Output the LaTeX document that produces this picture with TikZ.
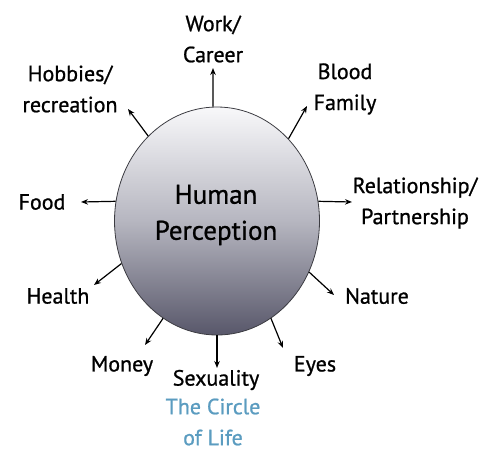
\documentclass[tikz,border=0pt]{standalone}
\usepackage{fontspec}
\setmainfont{PT Sans}[RawFeature={embolden=0.9}]
\usetikzlibrary{shapes.geometric,arrows.meta}
\definecolor{circblue}{RGB}{91,156,192}
\definecolor{toplight}{RGB}{248,248,250}
\definecolor{midgray}{RGB}{182,182,192}
\definecolor{botdark}{RGB}{88,87,106}
\definecolor{rimgray}{RGB}{60,60,66}
\tikzset{
  lbl/.style={font=\fontsize{22}{31}\selectfont, align=center, inner sep=0pt, text=black},
  arr/.style={-{Stealth[length=7pt,width=5.5pt]}, line width=1.2pt, black},
}
\begin{document}
\begin{tikzpicture}[x=1pt,y=-1pt]
\useasboundingbox (0,0) rectangle (494,450);
\node[ellipse, draw=rimgray, line width=0.8pt, minimum width=205pt, minimum height=228pt, inner sep=0pt,
      top color=toplight, bottom color=botdark, middle color=midgray] (E) at (217,221) {};
\node[font=\fontsize{27}{36}\selectfont, align=center, inner sep=0pt] (hp) at (216,215) {Human\\Perception};

\node[lbl] (work) at (213,39) {Work/\\Career};
\node[lbl] (hob) at (70,89) {Hobbies/\\recreation};
\node[lbl] (blood) at (345,89) {Blood\\Family};
\node[lbl] (food) at (42,202) {Food};
\node[lbl] (rel) at (415,203) {Relationship/\\Partnership};
\node[lbl] (health) at (58,296) {Health};
\node[lbl] (nature) at (377,296) {Nature};
\node[lbl] (money) at (122,366) {Money};
\node[lbl] (sex) at (216,380) {Sexuality};
\node[lbl] (eyes) at (315,366) {Eyes};
\node[lbl, text=circblue] (circ) at (213,422) {The Circle\\of Life};

\coordinate (twork) at (213,68);
\coordinate (thob) at (128,109);
\coordinate (tblood) at (307,106);
\coordinate (tfood) at (81,202);
\coordinate (trel) at (352,202);
\coordinate (thealth) at (94,285);
\coordinate (tnature) at (334,295);
\coordinate (tmoney) at (145,345);
\coordinate (tsex) at (217,368);
\coordinate (teyes) at (283,348);

\draw[arr] (E.92) -- (twork);
\draw[arr] (E.129) -- (thob);
\draw[arr] (E.49) -- (tblood);
\draw[arr] (E.169) -- (tfood);
\draw[arr] (E.11) -- (trel);
\draw[arr] (E.204) -- (thealth);
\draw[arr] (E.331) -- (tnature);
\draw[arr] (E.241) -- (tmoney);
\draw[arr] (E.270) -- (tsex);
\draw[arr] (E.299.5) -- (teyes);
\end{tikzpicture}
\end{document}
